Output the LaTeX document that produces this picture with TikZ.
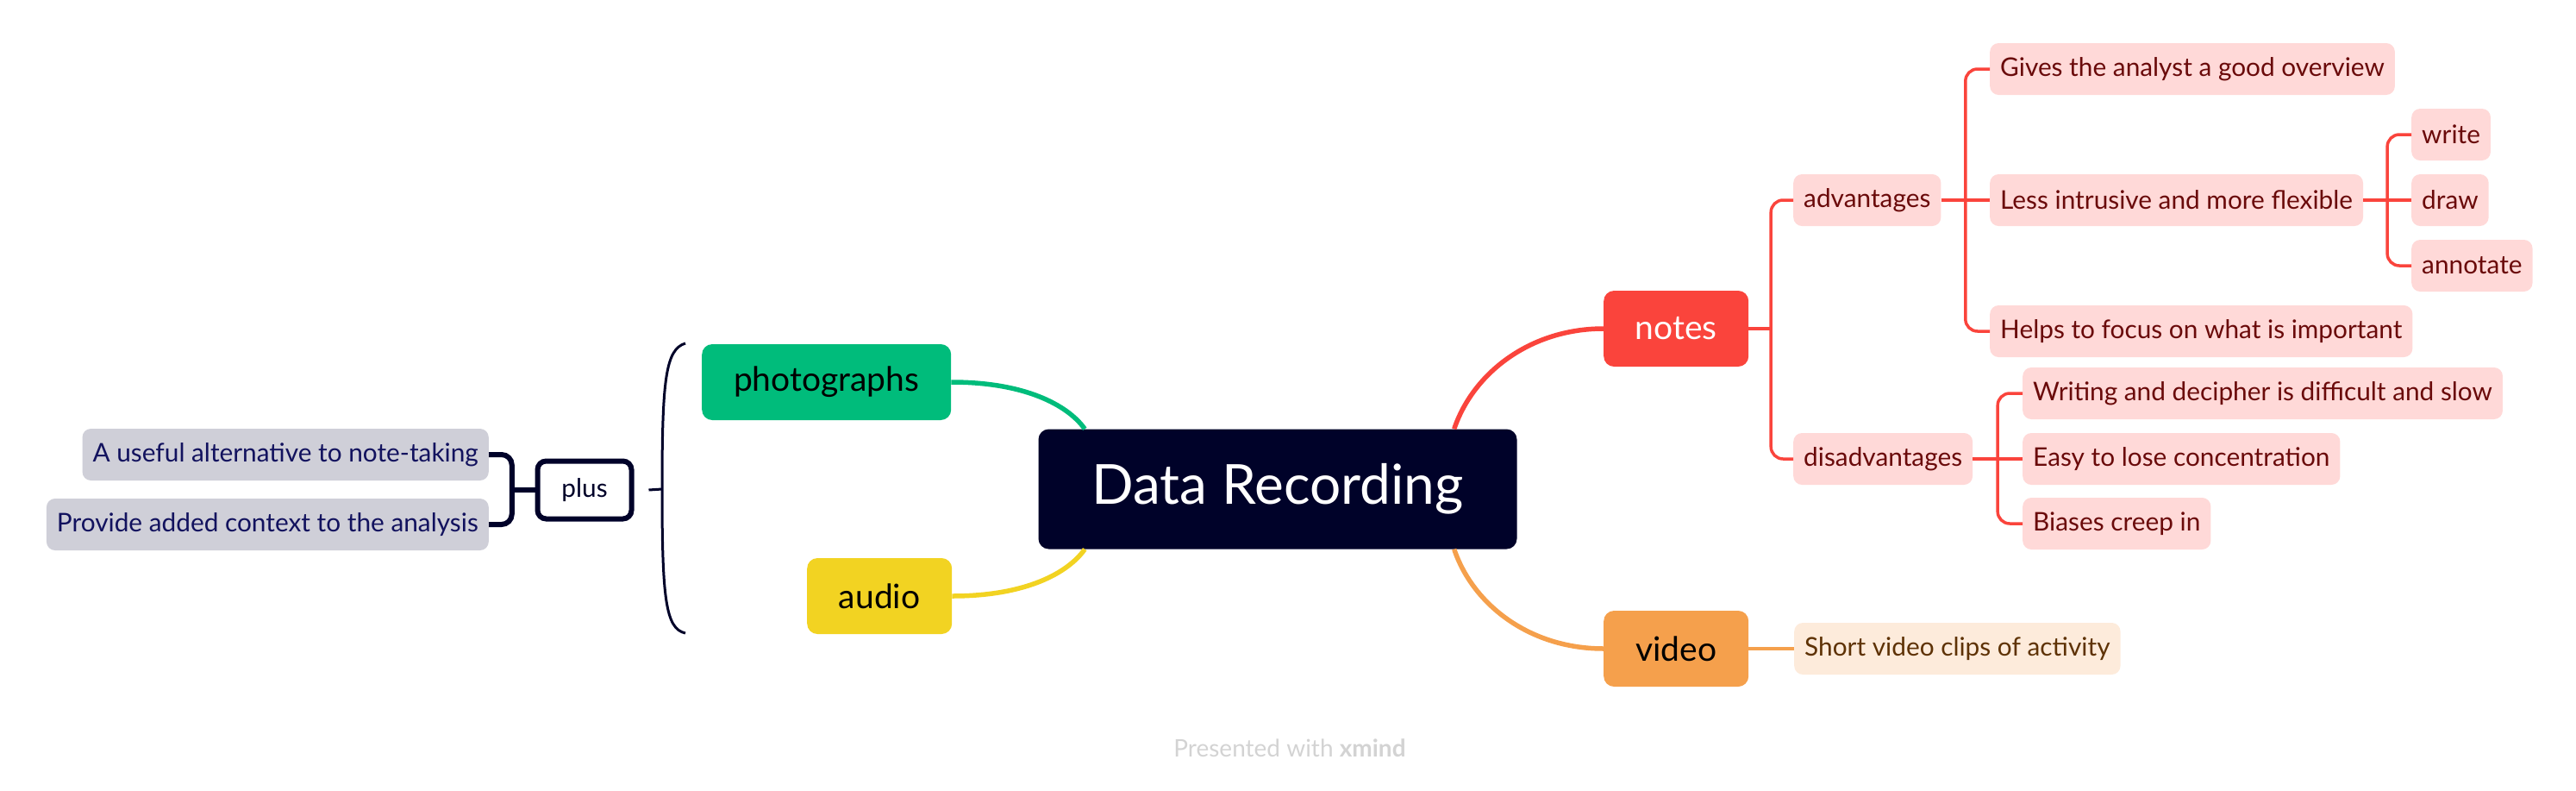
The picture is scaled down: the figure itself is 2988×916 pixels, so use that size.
\documentclass[tikz,border=0pt]{standalone}
\usepackage{fontspec}
\setmainfont{Lato}
\usepackage[rgb]{xcolor}
\usepackage{tikz}
\usetikzlibrary{calc}

\definecolor{rootnavy}{HTML}{000229}
\definecolor{photogreen}{HTML}{00BC7B}
\definecolor{audioyellow}{HTML}{F2D322}
\definecolor{notesred}{HTML}{FA443C}
\definecolor{videoorange}{HTML}{F5A04C}
\definecolor{redfill}{HTML}{FFD9D8}
\definecolor{redtext}{HTML}{6A0A0A}
\definecolor{orangefill}{HTML}{FDEBDB}
\definecolor{orangetext}{HTML}{5E3205}
\definecolor{grayfill}{HTML}{CFCFD8}
\definecolor{graytext}{HTML}{12125E}
\definecolor{footgray}{HTML}{D3D3D3}

\begin{document}
\begin{tikzpicture}[x=1pt, y=-1pt,
  central/.style={fill=rootnavy, text=white, rounded corners=12pt, minimum width=555pt, minimum height=139pt, font=\fontsize{64}{74}\selectfont},
  topic/.style={rounded corners=12pt, minimum width=168pt, minimum height=88pt, inner xsep=36pt, anchor=west, font=\fontsize{39}{46}\selectfont},
  leaf/.style={rounded corners=10pt, minimum height=60pt, inner xsep=12pt, inner ysep=0pt, font=\fontsize{29.8}{35}\selectfont},
  redleaf/.style={leaf, anchor=west, fill=redfill, text=redtext},
  orangeleaf/.style={leaf, anchor=west, fill=orangefill, text=orangetext},
  grayleaf/.style={leaf, anchor=east, fill=grayfill, text=graytext},
  redline/.style={draw=notesred, line width=3.5pt},
  navyline/.style={draw=rootnavy, line width=6pt},
]

\useasboundingbox (0,0) rectangle (2988,916);


% Central topic
\path
(1482,567) node[central] (center) {Data Recording};


% Main topics
\path
(814,443)  node[topic, fill=photogreen, minimum width=289pt] (photographs) {photographs}
(936,691)  node[topic, fill=audioyellow] (audio) {audio}
(1860,381) node[topic, fill=notesred, text=white] (notes) {notes}
(1860,752) node[topic, fill=videoorange] (video) {video};

\coordinate (cgreen)  at ($(center.north west)+(54,0)$);
\coordinate (cyellow) at ($(center.south west)+(54,0)$);
\coordinate (cred)    at ($(center.north east)+(-73,0)$);
\coordinate (corange) at ($(center.south east)+(-73,0)$);

\draw[photogreen, line width=5.5pt] (photographs.east) .. controls +(85,0) and +(-20,-28) .. (cgreen);
\draw[audioyellow, line width=5.5pt] (audio.east) .. controls +(85,0) and +(-20,28) .. (cyellow);
\draw[notesred, line width=5.5pt] (cred) .. controls +(22,-65) and +(-85,0) .. (notes.west);
\draw[videoorange, line width=5.5pt] (corange) .. controls +(22,65) and +(-85,0) .. (video.west);


% Notes branch
\path
(2080,232) node[redleaf] (advantages) {advantages}
(2080,532) node[redleaf] (disadvantages) {disadvantages}
(2308,80)  node[redleaf] (overview) {Gives the analyst a good overview}
(2308,232) node[redleaf] (flexible) {Less intrusive and more flexible}
(2308,384) node[redleaf] (focus) {Helps to focus on what is important}
(2797,156) node[redleaf] (write) {write}
(2797,232) node[redleaf] (draw) {draw}
(2797,308) node[redleaf] (annotate) {annotate}
(2346,456) node[redleaf] (decipher) {Writing and decipher is difficult and slow}
(2346,532) node[redleaf] (concentration) {Easy to lose concentration}
(2346,607) node[redleaf] (biases) {Biases creep in};

\coordinate (notesfork) at ($(notes.east)!0.5!(advantages.west |- notes.east)$);
\coordinate (advfork)   at ($(advantages.east)!0.5!(flexible.west)$);
\coordinate (flexfork)  at ($(flexible.east)!0.5!(draw.west)$);
\coordinate (disfork)   at ($(disadvantages.east)!0.5!(concentration.west)$);

\draw[redline] (notes.east) -- (notesfork);
\draw[redline, rounded corners=14pt] (advantages.west) -| (notesfork);
\draw[redline, rounded corners=14pt] (disadvantages.west) -| (notesfork);

\draw[redline] (advantages.east) -- (advfork);
\draw[redline, rounded corners=14pt] (overview.west) -| (advfork);
\draw[redline] (flexible.west) -- (advfork);
\draw[redline, rounded corners=14pt] (focus.west) -| (advfork);

\draw[redline] (flexible.east) -- (flexfork);
\draw[redline, rounded corners=14pt] (write.west) -| (flexfork);
\draw[redline] (draw.west) -- (flexfork);
\draw[redline, rounded corners=14pt] (annotate.west) -| (flexfork);

\draw[redline] (disadvantages.east) -- (disfork);
\draw[redline, rounded corners=14pt] (decipher.west) -| (disfork);
\draw[redline] (concentration.west) -- (disfork);
\draw[redline, rounded corners=14pt] (biases.west) -| (disfork);


% Video branch
\path
(2081,752) node[orangeleaf] (clips) {Short video clips of activity};

\draw[videoorange, line width=3.5pt] (video.east) -- (clips.west);


% Plus (left side)
\path
(567,527) node[grayleaf] (alternative) {A useful alternative to note-taking}
(567,608) node[grayleaf] (context) {Provide added context to the analysis}
(678,568) node[leaf, draw=rootnavy, line width=6pt, fill=white, text=rootnavy, minimum width=109pt, minimum height=67pt] (plus) {plus};

\coordinate (plusfork) at ($(alternative.east |- plus.west)!0.5!(plus.west)$);

\draw[navyline] (plus.west) -- (plusfork);
\draw[navyline, rounded corners=12pt] (alternative.east) -| (plusfork);
\draw[navyline, rounded corners=12pt] (context.east) -| (plusfork);

\coordinate (bracetop) at (795,398);
\coordinate (bracemid) at (768,567);
\coordinate (bracebot) at (795,734);

\draw[rootnavy, line width=3pt] (bracetop) .. controls (772,405) and (768,440) .. (bracemid) .. controls (768,694) and (772,729) .. (bracebot);
\draw[rootnavy, line width=3pt] ($(plus.east)+(17,0)$) -- (bracemid);


% Footer
\path
(1496,867) node[text=footgray, font=\fontsize{28}{32}\selectfont] (footer) {Presented with \textbf{xmind}};

\end{tikzpicture}
\end{document}
